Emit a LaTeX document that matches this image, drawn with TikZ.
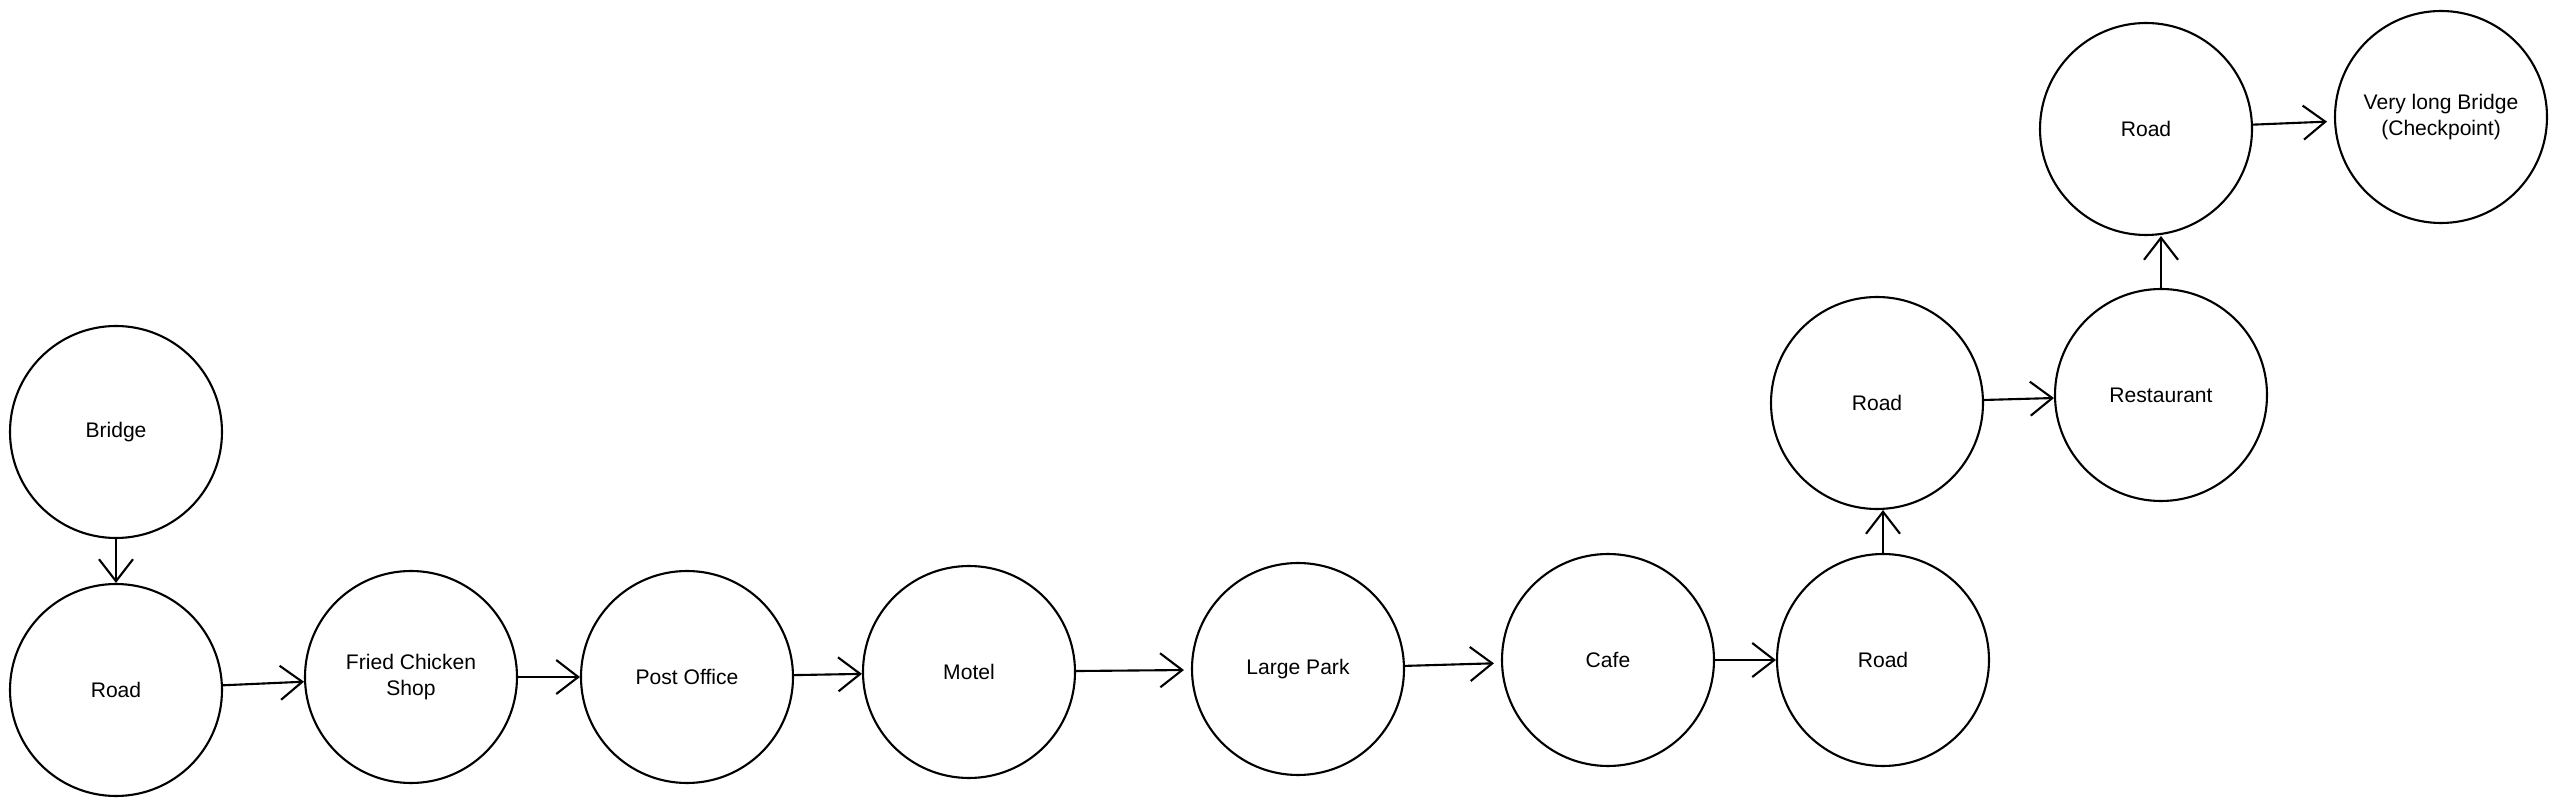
\documentclass[tikz,border=0pt]{standalone}
\usepackage{fontspec}
\setmainfont{Liberation Sans}
\usetikzlibrary{arrows.meta}

\begin{document}
\begin{tikzpicture}[line width=0.6pt,
    place/.style={draw,circle,minimum size=2.12cm,inner sep=0pt,align=center,
      font=\fontsize{6}{7.4}\selectfont},
    road/.style={-{Straight Barb[length=2.2mm,width=3.4mm]}}]
      \useasboundingbox (0,0) rectangle (25.57,8.08);

      \node[place] (bridge) at (1.16,3.76) {Bridge};
      \node[place] (road1) at (1.16,1.18) {Road};
      \node[place] (chicken) at (4.11,1.31) {Fried Chicken\\Shop};
      \node[place] (post) at (6.87,1.31) {Post Office};
      \node[place] (motel) at (9.69,1.36) {Motel};
      \node[place] (park) at (12.98,1.39) {Large Park};
      \node[place] (cafe) at (16.08,1.48) {Cafe};
      \node[place] (road2) at (18.83,1.48) {Road};
      \node[place] (road3) at (18.77,4.05) {Road};
      \node[place] (restaurant) at (21.61,4.13) {Restaurant};
      \node[place] (road4) at (21.46,6.79) {Road};
      \node[place] (longbridge) at (24.41,6.91) {Very long Bridge\\(Checkpoint)};

      \draw[road] (bridge) -- (road1);
      \draw[road] (road1) -- (chicken);
      \draw[road] (chicken) -- (post);
      \draw[road] (post) -- (motel);
      \draw[road,shorten >=2pt] (motel) -- (park);
      \draw[road,shorten >=2pt] (park) -- (cafe);
      \draw[road] (cafe) -- (road2);
      \draw[road] (road2.north) -- (road2.north |- road3.south);
      \draw[road] (road3) -- (restaurant);
      \draw[road] (restaurant.north) -- (restaurant.north |- road4.south);
      \draw[road,shorten >=2pt] (road4) -- (longbridge);
   \end{tikzpicture}
\end{document}
